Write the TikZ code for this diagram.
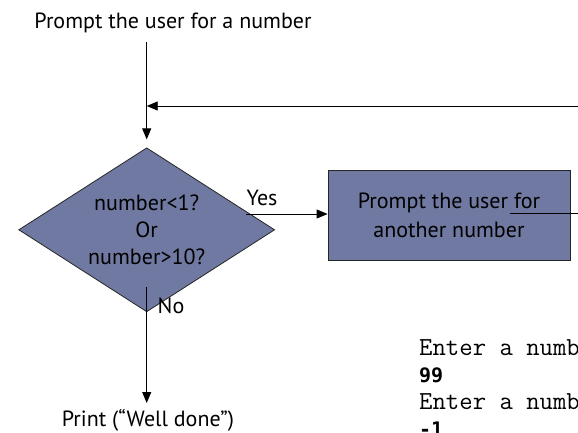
\documentclass[tikz,border=0pt]{standalone}
\usepackage{fontspec}
\setmainfont{PT Sans}
\newfontfamily\codebold{DejaVu Sans Mono}
\usetikzlibrary{shapes.geometric,arrows.meta}
\definecolor{shapefill}{RGB}{112,121,161}
\tikzset{
  lbl/.style={font=\fontsize{22}{27}\selectfont, inner sep=0pt, align=center},
  decision/.style={shape=diamond, shape aspect=1.56, draw=black!85, line width=0.8pt, fill=shapefill, inner sep=0pt,
     minimum width=256pt, minimum height=164pt, font=\fontsize{22}{27}\selectfont, align=center},
  process/.style={shape=rectangle, draw=black!85, line width=0.8pt, fill=shapefill, inner sep=0pt,
     minimum width=242pt, minimum height=90pt, font=\fontsize{22}{29}\selectfont, align=center},
  flow/.style={line width=0.9pt, -{Triangle[length=11pt,width=9pt]}},
  plain/.style={line width=0.9pt},
  code/.style={font=\ttfamily\fontsize{26}{27}\selectfont, inner sep=0pt, anchor=base west},
  codeb/.style={font=\codebold\bfseries\fontsize{20}{27}\selectfont, inner sep=0pt, anchor=base west},
}
\begin{document}
\begin{tikzpicture}[x=1pt,y=-1pt]
\useasboundingbox (0,0) rectangle (578,433);
\clip (0,0) rectangle (578,433);
% nodes
\node[lbl, anchor=base] (prompt) at (173,29) {Prompt the user for a number};
\node[decision] (dec) at (146.7,229.8) {number<1?\\Or\\number>10?};
\node[process] (proc) at (449,215) {Prompt the user for\\another number};
\node[lbl, anchor=base] (print) at (148,426) {Print (“Well done")};
\node[lbl] (yes) at (262,198) {Yes};
\node[lbl] (no) at (171,306) {No};
% code output
\node[code] (c1) at (419,355) {Enter a number};
\node[codeb] (c2) at (419,382) {99};
\node[code] (c3) at (419,409) {Enter a number};
\node[codeb] (c4) at (419,436) {-1};
% coordinates
\coordinate (topstart) at (146.7,42);
\coordinate (loopin) at (146.7,106);
\coordinate (loopright) at (590,106);
\coordinate (yesstart) at (246,214);
\coordinate (nostart) at (146.7,287);
\coordinate (printtop) at (146.7,403);
\coordinate (procout) at (510,213);
\coordinate (procright) at (590,213);
% connectors
\draw[flow] (topstart) -- ([yshift=8pt]dec.north);
\draw[flow] (loopright) -- (loopin);
\draw[flow] (yesstart) -- (yesstart -| proc.west);
\draw[flow] (nostart) -- (printtop);
\draw[plain] (procout) -- (procright);
\end{tikzpicture}
\end{document}
